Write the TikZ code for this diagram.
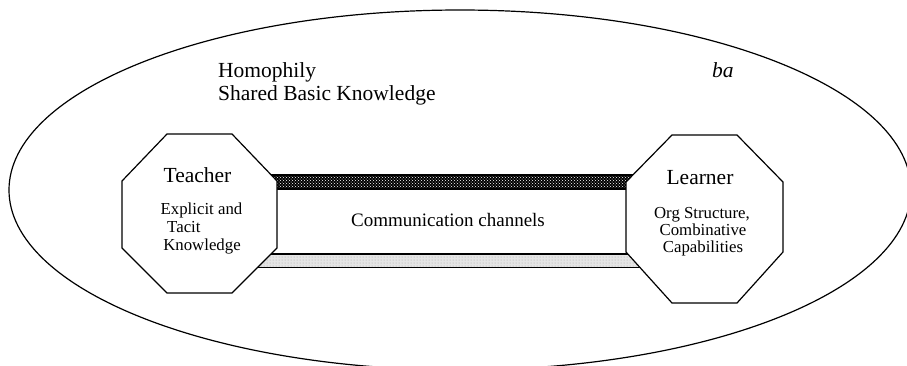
\documentclass[tikz,border=0pt]{standalone}
\usepackage{fontspec}
\setmainfont{Liberation Serif}
\usetikzlibrary{patterns}
\tikzset{
  outline/.style={line width=1.2pt, line join=miter},
  octo/.style={outline, fill=white},
  big/.style={font=\fontsize{21.5}{23}\selectfont, inner sep=0pt},
  mid/.style={font=\fontsize{19}{21}\selectfont, inner sep=0pt},
  small/.style={font=\fontsize{16.8}{17.5}\selectfont, inner sep=0pt},
}
\begin{document}
\begin{tikzpicture}[x=1pt,y=-1pt]
\useasboundingbox (0,0) rectangle (907,365);
\clip (0,0) rectangle (907,365);
% ba ellipse
\draw[outline] (460,190) ellipse [x radius=451, y radius=180];
% channel bands
\fill[black] (250,175) rectangle (660,189);
\fill[pattern=crosshatch dots, pattern color=white] (250,175) rectangle (660,189);
\fill[black!10] (240,254) rectangle (670,267);
\fill[pattern=dots, pattern color=black!35] (240,254) rectangle (670,267);
\draw[line width=1.2pt] (240,175) -- (670,175);
\draw[line width=1.2pt] (240,189) -- (670,189);
\draw[line width=1.2pt] (240,254) -- (670,254);
\draw[line width=1pt] (240,267) -- (670,267);
% octagons
\draw[octo] (167,134) -- (232,134) -- (277,181) -- (277,248) -- (232,293) -- (167,293) -- (122,248) -- (122,181) -- cycle;
\draw[octo] (672,135) -- (737,135) -- (783,182) -- (783,252) -- (737,303) -- (672,303) -- (626,252) -- (626,182) -- cycle;
% texts
\node[big, anchor=base west] (homo) at (218,77) {Homophily};
\node[big, anchor=base west] (sbk) at (218,100) {Shared Basic Knowledge};
\node[big, anchor=base west] (ba) at (712,77) {\itshape ba};
\node[big, anchor=base] (teacher) at (197.5,182) {Teacher};
\node[small, anchor=base] (t1) at (201.5,214) {Explicit and};
\node[small, anchor=base west] (t2) at (167,232) {Tacit};
\node[small, anchor=base] (t3) at (202,250) {Knowledge};
\node[big, anchor=base] (learner) at (700,184) {Learner};
\node[small, anchor=base] (l1) at (702,218) {Org Structure,};
\node[small, anchor=base] (l2) at (703,235) {Combinative};
\node[small, anchor=base] (l3) at (703,252) {Capabilities};
\node[mid, anchor=base] (comm) at (448,226) {Communication channels};
\end{tikzpicture}
\end{document}
